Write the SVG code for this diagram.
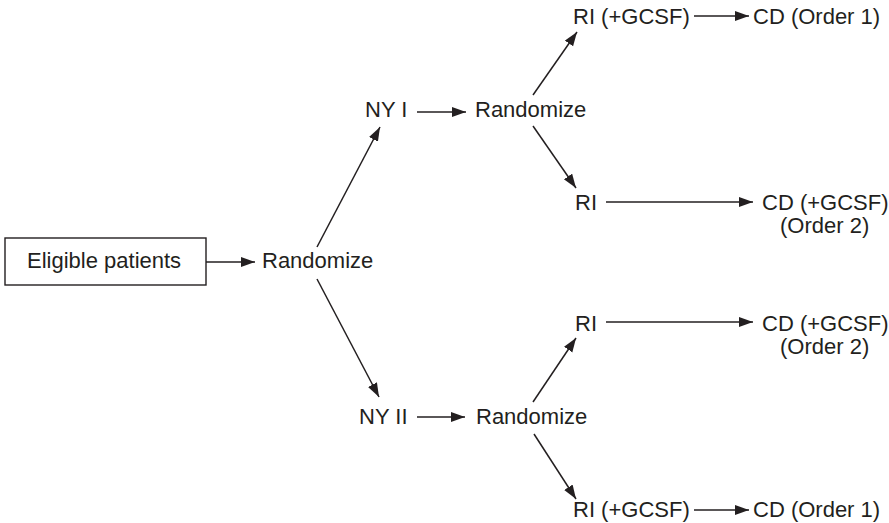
<svg xmlns="http://www.w3.org/2000/svg" width="889" height="523" viewBox="0 0 889 523">
<style>
text{font-family:"Liberation Sans",Arial,sans-serif;font-size:22px;fill:#231f20}
.c line{stroke:#231f20;stroke-width:1.5;fill:none}
.box{fill:#fff;stroke:#231f20;stroke-width:1.4}
</style>
<defs>
<marker id="ah" markerUnits="userSpaceOnUse" markerWidth="15" markerHeight="11" refX="14" refY="5" orient="auto">
<path d="M0,0 L14,5 L0,10 z" fill="#231f20"/>
</marker>
</defs>
<rect width="889" height="523" fill="#fff"/>
<g id="eligible"><rect class="box" x="5" y="238" width="201" height="47"/><text x="27" y="268">Eligible patients</text></g>
<g id="rand0"><text x="262" y="268">Randomize</text></g>
<g id="ny1"><text x="365" y="117">NY I</text></g>
<g id="rand1"><text x="475" y="117">Randomize</text></g>
<g id="ny2"><text x="359" y="424">NY II</text></g>
<g id="rand2"><text x="476" y="424">Randomize</text></g>
<g id="ri1"><text x="573" y="24">RI (+GCSF)</text></g>
<g id="cd1"><text x="753" y="24">CD (Order 1)</text></g>
<g id="ri2"><text x="575" y="210">RI</text></g>
<g id="cd2"><text x="762" y="210">CD (+GCSF)</text><text x="780" y="233">(Order 2)</text></g>
<g id="ri3"><text x="575" y="331">RI</text></g>
<g id="cd3"><text x="762" y="331">CD (+GCSF)</text><text x="780" y="354">(Order 2)</text></g>
<g id="ri4"><text x="573" y="517">RI (+GCSF)</text></g>
<g id="cd4"><text x="753" y="517">CD (Order 1)</text></g>
<g id="connectors" class="c">
<line x1="206" y1="262" x2="255" y2="262" marker-end="url(#ah)"/>
<line x1="317" y1="247" x2="380" y2="127" marker-end="url(#ah)"/>
<line x1="317" y1="279" x2="379" y2="397" marker-end="url(#ah)"/>
<line x1="417" y1="112" x2="466" y2="112" marker-end="url(#ah)"/>
<line x1="417" y1="417" x2="465" y2="417" marker-end="url(#ah)"/>
<line x1="533" y1="95" x2="577" y2="32" marker-end="url(#ah)"/>
<line x1="533" y1="126" x2="576" y2="188" marker-end="url(#ah)"/>
<line x1="533" y1="402" x2="576" y2="338" marker-end="url(#ah)"/>
<line x1="534" y1="434" x2="576" y2="499" marker-end="url(#ah)"/>
<line x1="694" y1="16" x2="749" y2="16" marker-end="url(#ah)"/>
<line x1="606" y1="202" x2="753" y2="202" marker-end="url(#ah)"/>
<line x1="606" y1="322" x2="753" y2="322" marker-end="url(#ah)"/>
<line x1="694" y1="510" x2="749" y2="510" marker-end="url(#ah)"/>
</g>
</svg>
